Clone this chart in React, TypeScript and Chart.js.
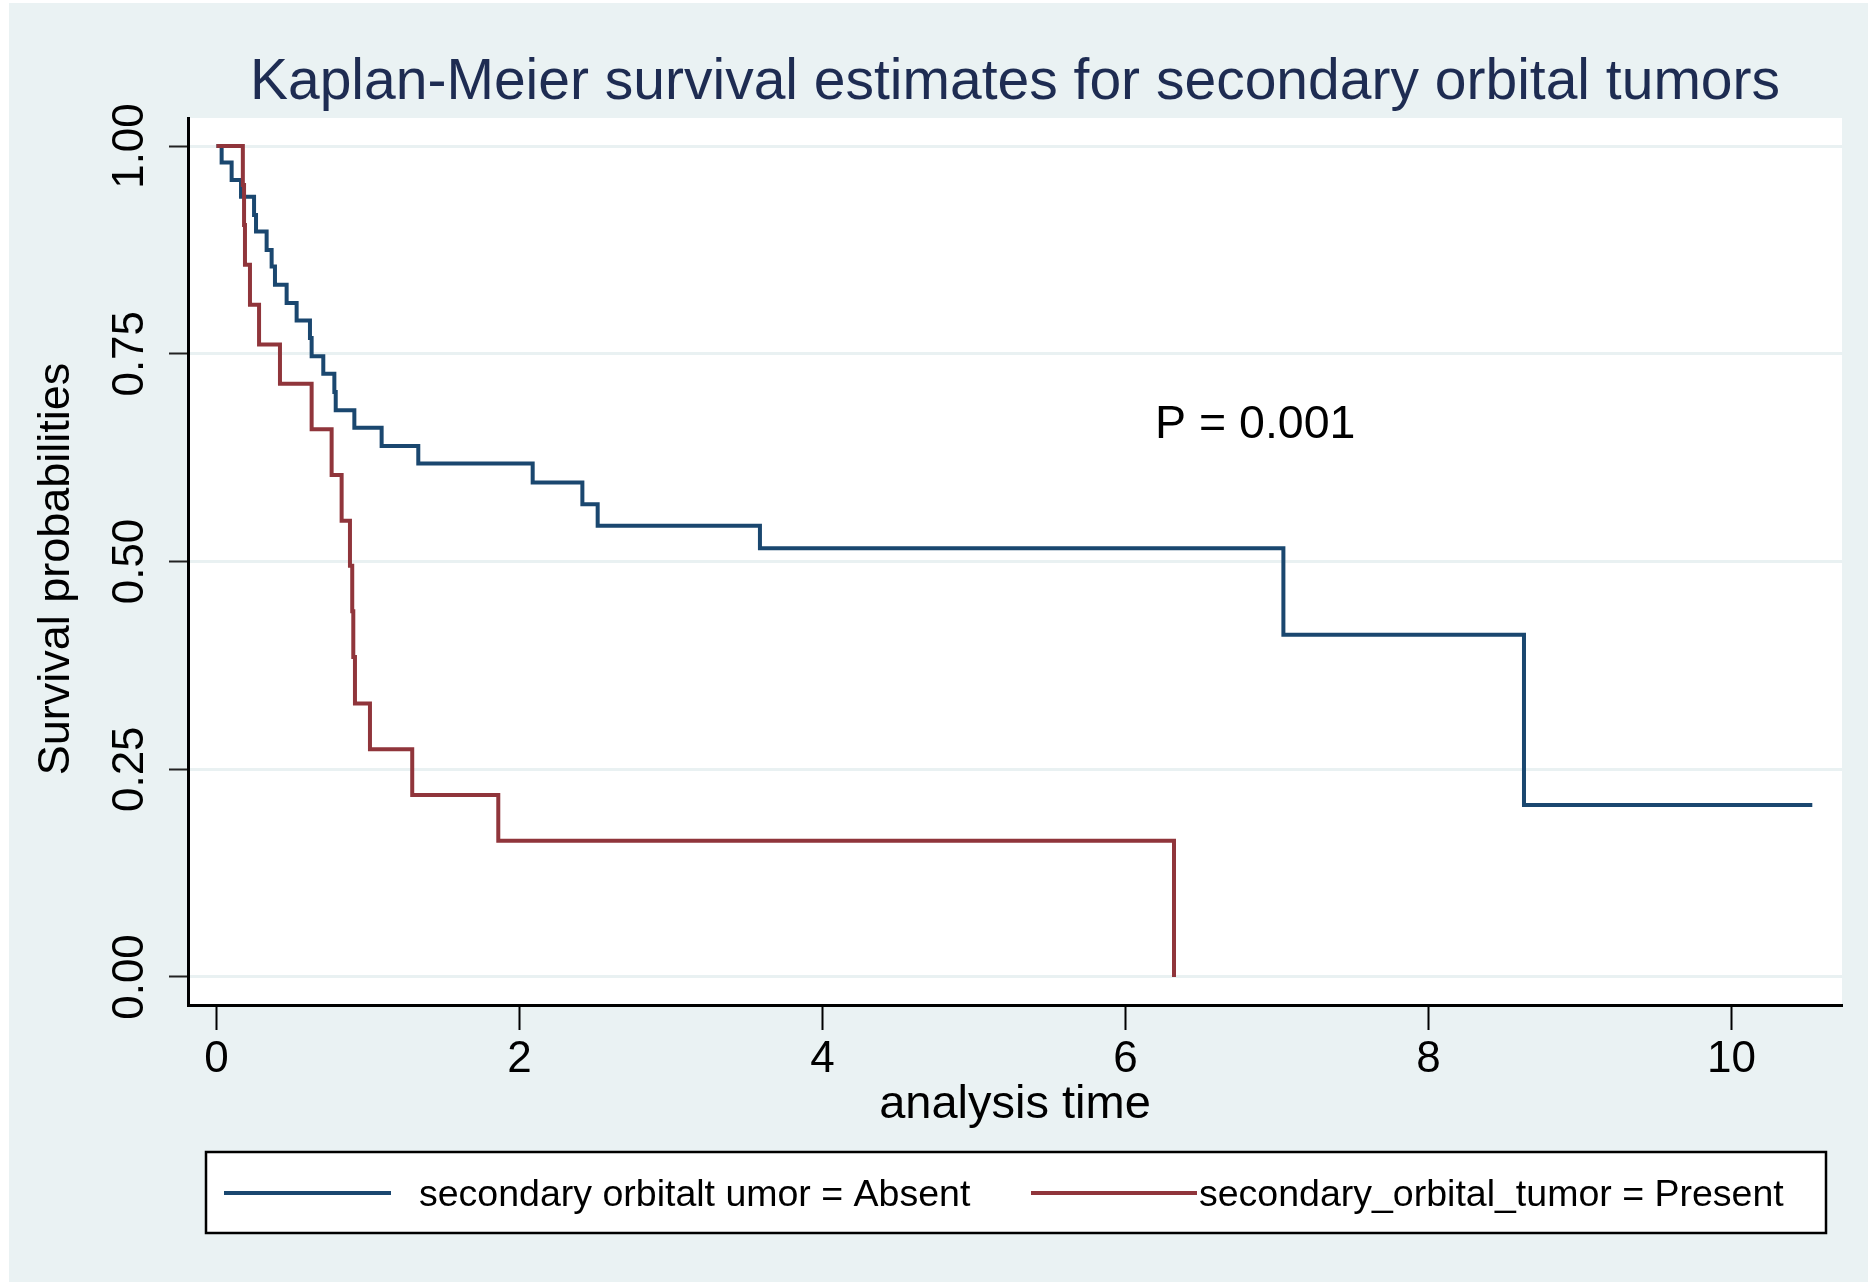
import React, { useEffect, useRef } from "react";
import { Chart, registerables } from "chart.js";

Chart.register(...registerables);

// ---- data ----
const absentTimes = [0, 0.034, 0.1, 0.162, 0.248, 0.261, 0.331, 0.364, 0.386, 0.463, 0.529, 0.617, 0.628, 0.705, 0.778, 0.787, 0.91, 1.09, 1.332, 2.087, 2.415, 2.516, 3.587, 7.042, 8.63, 10.533];
const absentSurvival = [1.0, 0.98, 0.959, 0.939, 0.917, 0.897, 0.875, 0.855, 0.833, 0.811, 0.79, 0.769, 0.747, 0.726, 0.704, 0.682, 0.661, 0.639, 0.618, 0.595, 0.569, 0.543, 0.516, 0.412, 0.207, 0.207];

const presentTimes = [0, 0.174, 0.182, 0.188, 0.221, 0.281, 0.419, 0.628, 0.76, 0.826, 0.881, 0.896, 0.903, 0.914, 1.013, 1.292, 1.86, 6.32];
const presentSurvival = [1.0, 0.953, 0.905, 0.857, 0.809, 0.761, 0.714, 0.659, 0.604, 0.549, 0.495, 0.44, 0.385, 0.329, 0.274, 0.219, 0.164, 0.0];

const xTickValues = [0, 2, 4, 6, 8, 10];
const yTickValues = [0, 0.25, 0.5, 0.75, 1];
const yTickLabels = ["0.00", "0.25", "0.50", "0.75", "1.00"];

const seriesLabels = ["secondary orbitalt umor = Absent", "secondary_orbital_tumor = Present"];
const titleText = "Kaplan-Meier survival estimates for secondary orbital tumors";
const xTitleText = "analysis time";
const yTitleText = "Survival probabilities";
const pValueText = "P = 0.001";
const pValuePos = { x: 6.195, y: 0.649 };

// ---- styles ----
const FONT = "'Liberation Sans', Arial, Helvetica, sans-serif";
const BLUE = "#1a476f";
const RED = "#90353b";
const BG = "#eaf2f3";
const GRID = "#e9f1f2";
const TITLE_COLOR = "#1e2c52";

const decorPlugin = {
  id: "decor",
  beforeDraw(chart: any) {
    const { ctx, chartArea } = chart;
    ctx.save();
    ctx.fillStyle = "#ffffff";
    ctx.fillRect(0, 0, chart.width, chart.height);
    ctx.fillStyle = BG;
    ctx.fillRect(9, 3, 1859, 1279);
    ctx.fillStyle = "#ffffff";
    ctx.fillRect(chartArea.left, chartArea.top, chartArea.right - chartArea.left, chartArea.bottom - chartArea.top);
    ctx.restore();
  },
  afterDraw(chart: any) {
    const { ctx, chartArea, scales } = chart;
    ctx.save();
    // title
    ctx.fillStyle = TITLE_COLOR;
    ctx.font = `57px ${FONT}`;
    ctx.textAlign = "center";
    ctx.textBaseline = "alphabetic";
    ctx.fillText(titleText, (chartArea.left + chartArea.right) / 2, 99);

    // y axis title (rotated)
    ctx.save();
    ctx.fillStyle = "#000";
    ctx.font = `45px ${FONT}`;
    ctx.translate(57, 569);
    ctx.rotate(-Math.PI / 2);
    ctx.textAlign = "center";
    ctx.textBaseline = "middle";
    ctx.fillText(yTitleText, 0, 0);
    ctx.restore();

    // p-value annotation
    ctx.fillStyle = "#000";
    ctx.font = `46.5px ${FONT}`;
    ctx.textAlign = "left";
    ctx.textBaseline = "alphabetic";
    ctx.fillText(pValueText, scales.x.getPixelForValue(pValuePos.x), scales.y.getPixelForValue(pValuePos.y));

    // legend box
    ctx.fillStyle = "#ffffff";
    ctx.fillRect(206, 1152, 1620, 81);
    ctx.strokeStyle = "#000";
    ctx.lineWidth = 2.5;
    ctx.strokeRect(206, 1152, 1620, 81);

    const items = [
      { color: BLUE, x1: 224, x2: 391, tx: 419, label: seriesLabels[0] },
      { color: RED, x1: 1031, x2: 1197, tx: 1199, label: seriesLabels[1] },
    ];
    ctx.font = `37.5px ${FONT}`;
    for (const it of items) {
      ctx.strokeStyle = it.color;
      ctx.lineWidth = 4;
      ctx.beginPath();
      ctx.moveTo(it.x1, 1193);
      ctx.lineTo(it.x2, 1193);
      ctx.stroke();
      ctx.fillStyle = "#000";
      ctx.fillText(it.label, it.tx, 1206);
    }
    ctx.restore();
  },
};

export default function App() {
  const canvasRef = useRef<HTMLCanvasElement | null>(null);

  useEffect(() => {
    if (!canvasRef.current) return;
    const absentData = absentTimes.map((t, i) => ({ x: t, y: absentSurvival[i] }));
    const presentData = presentTimes.map((t, i) => ({ x: t, y: presentSurvival[i] }));

    const chart = new Chart(canvasRef.current, {
      type: "scatter",
      data: {
        datasets: [
          {
            label: seriesLabels[0],
            data: absentData,
            showLine: true,
            stepped: "before",
            borderColor: BLUE,
            borderWidth: 4,
            pointRadius: 0,
            borderJoinStyle: "miter",
            order: 1,
          },
          {
            label: seriesLabels[1],
            data: presentData,
            showLine: true,
            stepped: "before",
            borderColor: RED,
            borderWidth: 4,
            pointRadius: 0,
            borderJoinStyle: "miter",
            order: 0,
          },
        ],
      } as any,
      options: {
        animation: false,
        responsive: false,
        devicePixelRatio: 1,
        layout: { padding: { left: 0, top: 118, right: 33, bottom: 150 } },
        plugins: {
          legend: { display: false },
          title: { display: false },
          tooltip: { enabled: false },
        },
        scales: {
          x: {
            type: "linear",
            min: -0.188,
            max: 10.729,
            afterBuildTicks: (scale: any) => {
              scale.ticks = xTickValues.map((v) => ({ value: v }));
            },
            afterFit: (scale: any) => {
              scale.height = 130;
            },
            grid: {
              drawOnChartArea: false,
              drawTicks: true,
              tickLength: 25,
              tickColor: "#000",
              tickWidth: 2,
            },
            border: { display: true, color: "#000", width: 3 },
            ticks: {
              color: "#000",
              font: { family: FONT, size: 44 },
              padding: 3,
              maxRotation: 0,
              autoSkip: false,
              callback: (v: any) => String(v),
            },
            title: {
              display: true,
              text: xTitleText,
              color: "#000",
              font: { family: FONT, size: 47 },
              padding: { top: 0, bottom: 2 },
            },
          },
          y: {
            type: "linear",
            min: -0.0337,
            max: 1.0337,
            afterBuildTicks: (scale: any) => {
              scale.ticks = yTickValues.map((v) => ({ value: v }));
            },
            afterFit: (scale: any) => {
              scale.width = 188;
            },
            grid: {
              color: GRID,
              lineWidth: 3,
              drawTicks: true,
              tickLength: 19,
              tickColor: "#222",
              tickWidth: 2,
            },
            border: { display: true, color: "#000", width: 3 },
            ticks: {
              color: "#000",
              font: { family: FONT, size: 44 },
              minRotation: 90,
              maxRotation: 90,
              crossAlign: "center",
              padding: -5,
              autoSkip: false,
              callback: (v: any) => {
                const i = yTickValues.indexOf(Number(v));
                return i >= 0 ? yTickLabels[i] : "";
              },
            },
            title: { display: false },
          },
        },
      } as any,
      plugins: [decorPlugin],
    });
    return () => chart.destroy();
  }, []);

  return (
    <div style={{ position: "fixed", left: 0, top: 0, width: 1875, height: 1285, background: "#fff" }}>
      <canvas ref={canvasRef} width={1875} height={1285} style={{ display: "block" }} />
    </div>
  );
}
